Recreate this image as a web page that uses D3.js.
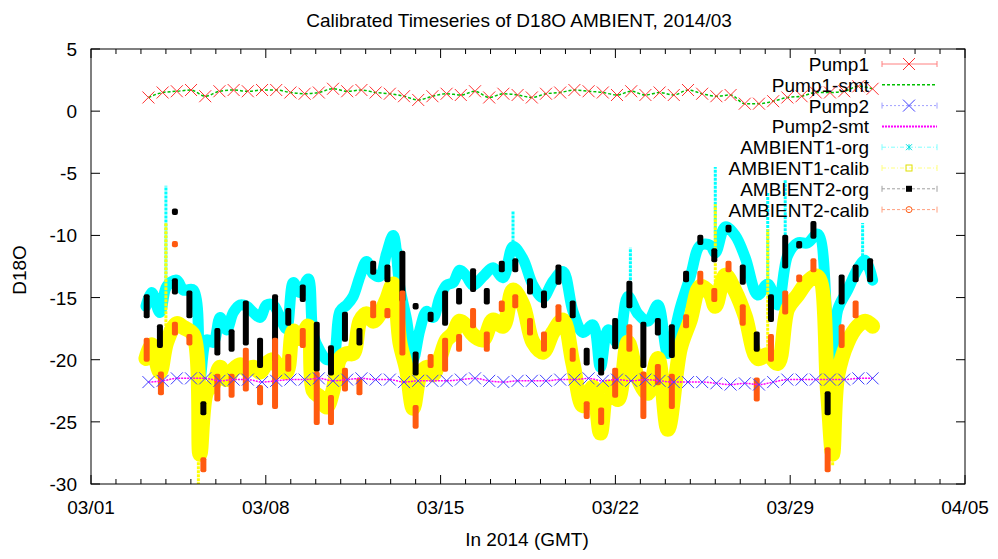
<!DOCTYPE html>
<html><head><meta charset="utf-8">
<script src="https://cdn.jsdelivr.net/npm/d3@7"></script>
<style>
body{margin:0;background:#fff}
text{font-family:"Liberation Sans",Arial,sans-serif}
</style></head>
<body><div id="chart"></div>
<script>
// days since 2014-03-01 00:00 GMT
const xTickLabels = ['03/01','03/08','03/15','03/22','03/29','04/05'];
const yTicks = [5,0,-5,-10,-15,-20,-25,-30];

const pumpStart = 2.3, pumpStep = 0.5686;
const pump1 = [1.1,1.5,1.6,1.7,1.2,1.6,1.7,1.6,1.7,1.7,1.5,1.4,1.5,1.8,1.6,1.7,1.5,1.4,1.2,0.9,1.2,1.4,1.3,1.6,1.1,1.4,
  1.3,1.1,1.4,1.5,1.7,1.6,1.5,1.3,1.6,1.3,1.5,1.3,1.7,1.4,1.2,1.3,0.6,0.6,0.8,1.1,1.2,1.5,1.5,1.6,2.0,1.8];
const pump2 = [-21.8,-21.7,-21.5,-21.5,-21.5,-21.7,-21.6,-21.6,-21.8,-21.7,-21.6,-21.6,-21.5,-21.7,-21.6,-21.5,-21.6,-21.6,
  -21.8,-21.7,-21.7,-21.7,-21.6,-21.5,-21.7,-21.8,-21.7,-21.7,-21.7,-21.6,-21.6,-21.5,-21.7,-21.6,-21.7,-21.6,-21.7,-21.8,
  -21.8,-21.8,-21.9,-22.0,-21.9,-22.0,-21.8,-21.6,-21.6,-21.6,-21.6,-21.6,-21.5,-21.5];

const ambT = [2.2,2.43,2.76,3.03,3.43,3.7,4.1,4.36,4.63,4.9,5.17,5.43,5.7,5.97,6.23,6.5,6.77,7.03,7.3,7.57,7.83,8.1,8.37,
  8.7,8.9,9.17,9.44,9.7,9.97,10.24,10.5,10.77,11.03,11.3,11.57,11.83,12.1,12.37,12.64,12.9,13.17,13.44,13.7,13.97,14.24,
  14.5,14.77,15.04,15.3,15.7,16.1,16.5,16.9,17.3,17.7,18.1,18.5,18.9,19.3,19.7,20.1,20.4,20.7,21.1,21.5,21.9,22.3,22.7,
  23.1,23.6,24.0,24.4,24.8,25.0,25.4,25.8,26.2,26.7,27.1,27.5,27.9,28.3,28.7,29.1,29.5,29.7,29.9,30.3,30.7,31.0,31.3];
const amb1Org = [-15.7,-14.6,-16.2,-14.1,-13.6,-14.4,-14.4,-21.5,-18.4,-18.6,-16.6,-17.6,-16.2,-15.6,-15.7,-16.2,-16.6,
  -15.6,-15.6,-16.6,-17.5,-13.8,-14.6,-13.5,-18.0,-19.3,-20.0,-19.8,-16.1,-15.6,-14.9,-13.3,-12.1,-13.1,-13.3,-11.5,-10.0,
  -14.2,-16.8,-20.0,-17.6,-16.1,-16.6,-15.0,-14.0,-13.8,-12.8,-13.3,-14.0,-13.3,-12.6,-13.4,-10.9,-11.9,-14.0,-15.0,-13.7,
  -12.9,-16.1,-17.8,-17.2,-20.6,-17.6,-18.7,-14.9,-16.3,-16.9,-15.6,-19.5,-15.8,-13.3,-10.8,-10.8,-11.4,-9.3,-10.0,-11.8,
  -14.8,-13.9,-15.6,-11.6,-10.6,-10.6,-9.9,-17.9,-22.5,-16.0,-14.4,-12.7,-12.0,-13.6];
const amb1Calib = [-19.9,-18.8,-21.0,-18.6,-17.1,-17.4,-18.0,-27.6,-22.6,-22.0,-20.6,-21.6,-20.8,-20.4,-20.8,-20.6,-21.0,
  -20.3,-20.0,-20.8,-21.0,-17.7,-18.3,-17.3,-22.5,-23.0,-23.8,-22.4,-19.9,-19.5,-19.5,-16.9,-16.3,-16.9,-16.3,-15.2,-13.9,
  -18.6,-20.8,-23.9,-21.3,-20.6,-21.2,-19.9,-18.4,-17.9,-16.9,-17.3,-18.0,-18.4,-16.8,-17.3,-14.4,-15.6,-18.6,-19.4,-17.8,
  -16.8,-20.3,-23.7,-22.2,-25.9,-22.2,-23.2,-18.6,-21.5,-22.7,-19.9,-25.6,-19.1,-16.8,-14.1,-14.7,-15.7,-13.2,-14.5,-16.5,
  -19.9,-19.6,-20.3,-15.9,-14.8,-13.7,-13.3,-22.7,-27.6,-21.3,-18.6,-17.3,-16.9,-17.3];
// isolated excursions: [day, extreme value]
const amb1Spikes = [[3.0,-6.0],[4.3,-24],[12.4,-11],[16.9,-8.0],[21.6,-11],[25.0,-4.5],[27.1,-6.5],[27.8,-5.5],[30.9,-9]];
const amb1CalibSpikes = [[3.0,-9.0],[4.3,-30],[12.4,-14],[25.0,-7.5],[27.1,-9.5],[29.7,-28.5]];

// AMBIENT2 measurement clusters: [day, top, bottom]
const amb2Org = [[2.23,-14.9,-16.5],[2.76,-17.3,-18.9],[3.36,-13.6,-14.6],[3.36,-8.0,-8.2],[3.94,-14.6,-16.5],[4.5,-23.5,-24.3],
  [5.06,-17.6,-19.5],[5.63,-17.7,-19.2],[6.2,-15.4,-18.7],[6.77,-18.4,-20.5],[7.37,-14.9,-20.0],[7.9,-16.0,-17.1],
  [8.48,-14.1,-15.2],[9.04,-17.1,-20.8],[9.61,-19.0,-21.1],[10.17,-16.3,-18.4],[10.75,-17.6,-18.7],[11.3,-12.2,-13.0],
  [11.87,-12.5,-13.6],[12.47,-11.4,-15.2],[13.0,-15.6,-15.8],[13.0,-19.5,-21.1],[13.6,-16.3,-16.8],[14.18,-14.6,-17.1],
  [14.74,-14.4,-15.4],[15.3,-12.8,-14.4],[15.85,-14.4,-15.4],[16.45,-12.2,-12.8],[16.99,-12.0,-12.8],[17.58,-13.6,-14.6],
  [18.14,-14.6,-15.7],[18.72,-12.5,-13.8],[19.29,-15.4,-16.5],[19.85,-19.2,-20.3],[20.43,-20.0,-21.1],[20.99,-16.8,-19.0],
  [21.56,-13.8,-15.7],[22.12,-17.1,-20.5],[22.7,-16.8,-17.9],[23.26,-17.3,-19.7],[23.83,-13.0,-13.6],[24.4,-10.1,-10.6],
  [24.96,-11.2,-12.0],[25.53,-9.3,-9.6],[26.1,-12.5,-13.8],[26.66,-17.9,-19.2],[27.23,-14.9,-16.8],[27.8,-10.1,-12.5],
  [28.36,-10.6,-10.9],[28.93,-9.0,-10.1],[29.5,-22.7,-24.3],[30.06,-13.3,-15.4],[30.62,-12.5,-13.6],[31.2,-12.0,-13.6]];
const amb2Calib = [[2.23,-18.4,-20.0],[2.8,-21.1,-22.7],[3.36,-17.1,-17.9],[3.36,-10.6,-10.8],[3.94,-18.1,-18.7],
  [4.5,-28.0,-28.9],[5.06,-21.3,-23.2],[5.63,-21.3,-22.9],[6.2,-19.2,-22.4],[6.77,-22.2,-23.5],[7.37,-18.4,-23.8],
  [7.9,-19.7,-20.8],[8.48,-17.6,-18.9],[9.04,-21.1,-25.1],[9.61,-23.0,-25.1],[10.17,-20.8,-22.4],[10.75,-21.6,-22.7],
  [11.3,-15.4,-16.5],[11.87,-16.0,-16.5],[12.47,-14.6,-19.5],[13.0,-23.8,-25.4],[13.6,-19.7,-20.5],[14.18,-18.4,-20.8],
  [14.74,-18.1,-19.2],[15.3,-16.0,-17.3],[15.85,-17.9,-19.2],[16.45,-15.4,-16.0],[16.99,-14.9,-15.7],[17.58,-16.8,-17.9],
  [18.14,-17.9,-19.2],[18.72,-15.7,-16.8],[19.29,-19.2,-20.0],[19.85,-23.5,-24.6],[20.43,-24.0,-25.1],[20.99,-20.8,-22.9],
  [21.56,-17.3,-19.2],[22.12,-21.1,-24.6],[22.7,-20.5,-21.9],[23.26,-21.3,-23.8],[23.83,-16.5,-17.3],[24.4,-13.0,-13.8],
  [24.96,-14.4,-15.2],[25.53,-12.2,-12.8],[26.1,-15.7,-17.1],[26.66,-21.6,-23.2],[27.23,-18.1,-20.0],[27.8,-14.6,-16.2],
  [28.36,-13.3,-13.6],[28.93,-12.0,-12.8],[29.5,-27.2,-28.9],[30.06,-17.3,-18.9],[30.62,-15.4,-16.5]];

const legendNames = ['Pump1','Pump1-smt','Pump2','Pump2-smt','AMBIENT1-org','AMBIENT1-calib','AMBIENT2-org','AMBIENT2-calib'];

const W = 998, H = 559;
const margin = {top: 49, left: 91, right: 33, bottom: 75};
const width = W - margin.left - margin.right, height = H - margin.top - margin.bottom;
const FS = 19;

const svg = d3.select('#chart').append('svg').attr('width', W).attr('height', H);
const g = svg.append('g').attr('transform', `translate(${margin.left},${margin.top})`);

const x = d3.scaleLinear().domain([0, 35]).range([0, width]);
const y = d3.scaleLinear().domain([-30, 5]).range([height, 0]);

svg.append('clipPath').attr('id', 'clip').append('rect').attr('width', width).attr('height', height);
const plot = g.append('g').attr('clip-path', 'url(#clip)');

// AMBIENT bands
function band(vals, color, w) {
  plot.append('path')
    .datum(ambT.map((t, i) => [t, vals[i]]))
    .attr('d', d3.line().x(d => x(d[0])).y(d => y(d[1])).curve(d3.curveCatmullRom))
    .attr('fill', 'none').attr('stroke', color).attr('stroke-width', w)
    .attr('stroke-linejoin', 'round').attr('stroke-linecap', 'round');
}
function spikes(list, base, color) {
  list.forEach(([t, v]) => {
    const i = d3.minIndex(ambT, a => Math.abs(a - t));
    plot.append('line').attr('x1', x(t)).attr('x2', x(t)).attr('y1', y(base[i])).attr('y2', y(v))
      .attr('stroke', color).attr('stroke-width', 3).attr('stroke-dasharray', '3,1');
  });
}
band(amb1Org, '#00ffff', 11);
spikes(amb1Spikes, amb1Org, '#00ffff');
band(amb1Calib, '#ffff00', 15);
spikes(amb1CalibSpikes, amb1Calib, '#ffff00');

function clusters(list, color, w) {
  plot.selectAll(null).data(list).enter().append('rect')
    .attr('x', d => x(d[0]) - w / 2).attr('width', w)
    .attr('y', d => y(d[1]) - 2).attr('height', d => y(d[2]) - y(d[1]) + 4)
    .attr('rx', 2).attr('fill', color);
}
clusters(amb2Org, '#000000', 6);
clusters(amb2Calib, '#ff5a10', 6);

// pumps
function pump(vals, color, smtColor, dash) {
  const pts = vals.map((v, i) => [pumpStart + i * pumpStep, v]);
  plot.append('path').datum(pts)
    .attr('d', d3.line().x(d => x(d[0])).y(d => y(d[1])).curve(d3.curveMonotoneX))
    .attr('fill', 'none').attr('stroke', smtColor).attr('stroke-width', 1.5).attr('stroke-dasharray', dash);
  const m = plot.selectAll(null).data(pts).enter().append('g')
    .attr('transform', d => `translate(${x(d[0])},${y(d[1])})`);
  m.append('path').attr('d', 'M-6,-6L6,6M-6,6L6,-6').attr('stroke', color).attr('stroke-width', 1);
}
pump(pump1, '#ff3030', '#00c000', '3,2');
pump(pump2, '#4040ff', '#ff00ff', '2,1');

// frame and ticks
g.append('rect').attr('width', width).attr('height', height).attr('fill', 'none').attr('stroke', '#000');
d3.range(0, 36).forEach(d => {
  const len = d % 7 === 0 ? 9 : 5;
  g.append('line').attr('x1', x(d)).attr('x2', x(d)).attr('y1', height).attr('y2', height - len).attr('stroke', '#000');
  g.append('line').attr('x1', x(d)).attr('x2', x(d)).attr('y1', 0).attr('y2', len).attr('stroke', '#000');
});
xTickLabels.forEach((lab, i) => {
  g.append('text').attr('x', x(i * 7)).attr('y', height + 30).attr('text-anchor', 'middle')
    .attr('font-size', FS).text(lab);
});
yTicks.forEach(v => {
  g.append('line').attr('x1', 0).attr('x2', 9).attr('y1', y(v)).attr('y2', y(v)).attr('stroke', '#000');
  g.append('line').attr('x1', width).attr('x2', width - 9).attr('y1', y(v)).attr('y2', y(v)).attr('stroke', '#000');
  g.append('text').attr('x', -14).attr('y', y(v) + 7).attr('text-anchor', 'end').attr('font-size', FS).text(v);
});

svg.append('text').attr('x', 519).attr('y', 27).attr('text-anchor', 'middle').attr('font-size', FS)
  .text('Calibrated Timeseries of D18O AMBIENT, 2014/03');
svg.append('text').attr('x', 527).attr('y', 546).attr('text-anchor', 'middle').attr('font-size', FS)
  .text('In 2014 (GMT)');
svg.append('text').attr('transform', 'translate(26,270) rotate(-90)').attr('text-anchor', 'middle')
  .attr('font-size', FS).text('D18O');

// legend
const legendStyle = [
  {c: '#ff8080', mark: 'x', mc: '#ff3030', dash: null},
  {c: '#00c000', dash: '3,2', w: 1.5},
  {c: '#a0a0ff', mark: 'x', mc: '#4040ff', dash: '2,2'},
  {c: '#ff00ff', dash: '2,1', w: 2},
  {c: '#80ffff', mark: '*', mc: '#00e0e0', dash: '4,2,1,2'},
  {c: '#ffff80', mark: 's', mc: '#e0e000', dash: '4,2,1,2'},
  {c: '#a0a0a0', mark: 'f', mc: '#000', dash: '3,2'},
  {c: '#ffa080', mark: 'o', mc: '#ff5a10', dash: '3,2'}
];
const lg = svg.append('g');
legendNames.forEach((name, i) => {
  const yy = 64 + i * 20.8, st = legendStyle[i];
  const x1 = 882, x2 = 937, cx = 909;
  lg.append('text').attr('x', 869).attr('y', yy + 7).attr('text-anchor', 'end').attr('font-size', FS).text(name);
  lg.append('line').attr('x1', x1).attr('x2', x2).attr('y1', yy).attr('y2', yy)
    .attr('stroke', st.c).attr('stroke-width', st.w || 1).attr('stroke-dasharray', st.dash);
  if (st.mark) {
    lg.append('path').attr('d', `M${x1},${yy - 3}V${yy + 3}M${x2},${yy - 3}V${yy + 3}`).attr('stroke', st.c);
    if (st.mark === 'x') lg.append('path').attr('d', `M${cx-6},${yy-6}L${cx+6},${yy+6}M${cx-6},${yy+6}L${cx+6},${yy-6}`).attr('stroke', st.mc);
    if (st.mark === '*') lg.append('path').attr('d', `M${cx-3},${yy-3}L${cx+3},${yy+3}M${cx-3},${yy+3}L${cx+3},${yy-3}M${cx},${yy-3}V${yy+3}`).attr('stroke', st.mc);
    if (st.mark === 's') lg.append('rect').attr('x', cx - 3).attr('y', yy - 3).attr('width', 6).attr('height', 6).attr('fill', 'none').attr('stroke', st.mc);
    if (st.mark === 'f') lg.append('rect').attr('x', cx - 3).attr('y', yy - 3).attr('width', 6).attr('height', 6).attr('fill', st.mc);
    if (st.mark === 'o') lg.append('circle').attr('cx', cx).attr('cy', yy).attr('r', 3).attr('fill', 'none').attr('stroke', st.mc);
  }
});
</script></body></html>
